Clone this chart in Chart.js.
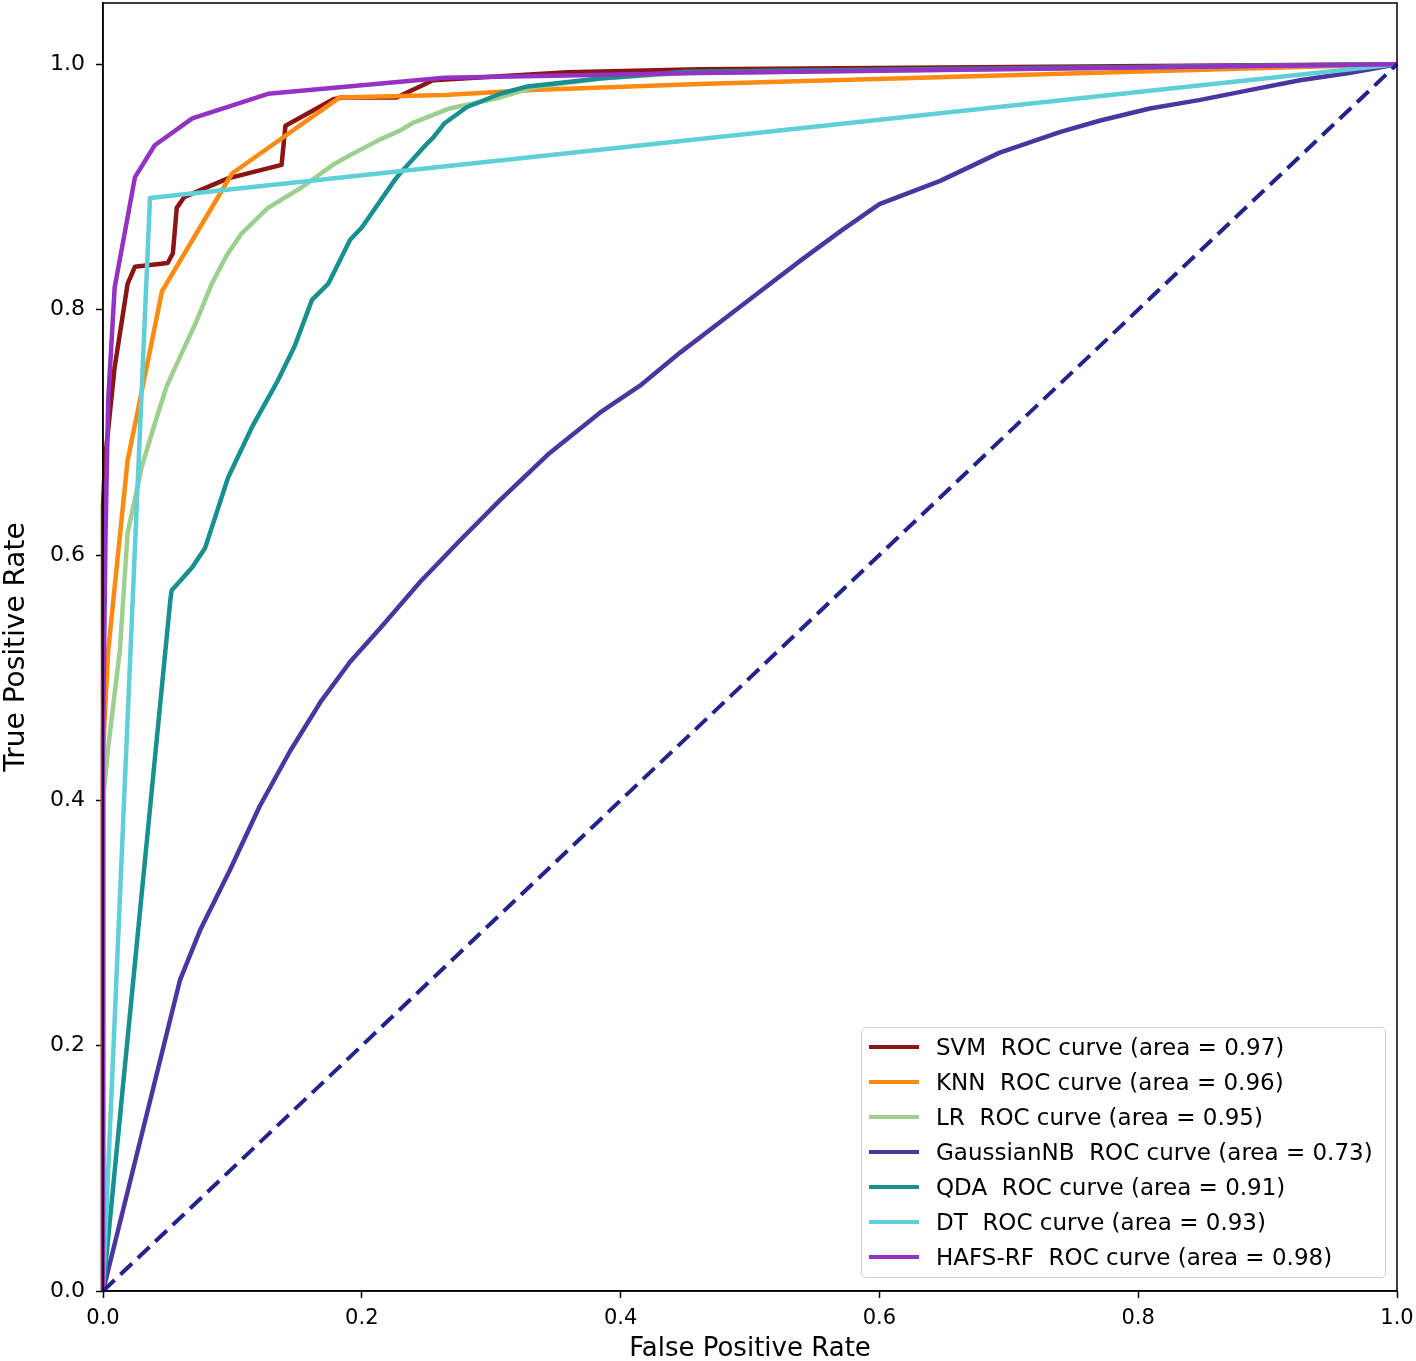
<!DOCTYPE html>
<html>
<head>
<meta charset="utf-8">
<script src="https://cdn.jsdelivr.net/npm/chart.js@4/dist/chart.umd.min.js"></script>
<style>
  html, body { margin: 0; padding: 0; background: #fff; }
  #wrap { position: relative; width: 1416px; height: 1361px; }
  canvas { display: block; }
  #legend {
    position: absolute; left: 861px; top: 1027px; width: 525px; height: 251px;
    border: 1px solid #cfcfcf; border-radius: 5px; background: rgba(255,255,255,0.85);
    font-family: "DejaVu Sans", sans-serif; font-size: 23px; color: #000;
    box-sizing: border-box; padding-top: 1.5px;
  }
  .row { position: relative; height: 35px; }
  .sw { position: absolute; left: 7px; top: 15px; width: 50px; height: 4.5px; }
  .tx { position: absolute; left: 74px; top: 0; line-height: 35px; white-space: pre; }
</style>
</head>
<body>
<div id="wrap">
  <canvas id="c" width="1416" height="1361"></canvas>
  <div id="legend"></div>
</div>
<script>
// ---- data ----
const modelNames = ['SVM', 'KNN', 'LR', 'GaussianNB', 'QDA', 'DT', 'HAFS-RF'];
const modelAuc   = [0.97, 0.96, 0.95, 0.73, 0.91, 0.93, 0.98];
const modelColors = ['#8b1414', '#ff8a12', '#9dcf8e', '#4b35a0', '#189090', '#5fcfd8', '#9432c6'];

const svmFpr = [0, 0, 0.0015, 0.009, 0.013, 0.019, 0.0247, 0.050, 0.054, 0.057, 0.063, 0.0966, 0.138, 0.141, 0.148, 0.178, 0.185, 0.227, 0.237, 0.245, 0.255, 0.359, 0.461, 1];
const svmTpr = [0, 0.64, 0.677, 0.753, 0.78, 0.821, 0.835, 0.838, 0.846, 0.883, 0.892, 0.907, 0.918, 0.950, 0.954, 0.9715, 0.973, 0.973, 0.978, 0.982, 0.987, 0.9935, 0.996, 1];

const knnFpr = [0, 0, 0.004, 0.019, 0.027, 0.0456, 0.0997, 0.183, 0.264, 0.332, 0.461, 1];
const knnTpr = [0, 0.44, 0.522, 0.677, 0.718, 0.815, 0.911, 0.973, 0.975, 0.979, 0.984, 1];

const lrFpr = [0, 0, 0.004, 0.013, 0.019, 0.030, 0.040, 0.049, 0.061, 0.072, 0.084, 0.096, 0.107, 0.1275, 0.154, 0.179, 0.191, 0.2125, 0.2295, 0.239, 0.264, 0.268, 0.307, 0.332, 0.384, 0.45, 1];
const lrTpr = [0, 0.40, 0.443, 0.522, 0.618, 0.672, 0.707, 0.737, 0.765, 0.790, 0.821, 0.845, 0.862, 0.883, 0.900, 0.919, 0.926, 0.938, 0.946, 0.952, 0.9625, 0.964, 0.973, 0.981, 0.9885, 0.993, 1];

const gnbFpr = [0, 0.0595, 0.075, 0.098, 0.121, 0.1445, 0.168, 0.191, 0.214, 0.245, 0.276, 0.307, 0.345, 0.384, 0.415, 0.446, 0.477, 0.508, 0.539, 0.570, 0.600, 0.647, 0.693, 0.740, 0.770, 0.809, 0.848, 0.886, 0.925, 0.963, 1];
const gnbTpr = [0, 0.2535, 0.294, 0.343, 0.395, 0.440, 0.480, 0.513, 0.540, 0.578, 0.612, 0.645, 0.683, 0.716, 0.738, 0.765, 0.790, 0.815, 0.840, 0.864, 0.886, 0.905, 0.928, 0.945, 0.954, 0.964, 0.971, 0.979, 0.987, 0.993, 1];

const qdaFpr = [0, 0.052, 0.053, 0.069, 0.079, 0.0966, 0.115, 0.135, 0.148, 0.1615, 0.174, 0.191, 0.200, 0.2257, 0.2295, 0.251, 0.255, 0.264, 0.281, 0.307, 0.328, 0.384, 0.45, 1];
const qdaTpr = [0, 0.563, 0.571, 0.590, 0.606, 0.663, 0.704, 0.742, 0.770, 0.808, 0.821, 0.857, 0.867, 0.906, 0.911, 0.936, 0.940, 0.952, 0.965, 0.976, 0.982, 0.9885, 0.994, 1];

const dtFpr = [0, 0.0363, 1];
const dtTpr = [0, 0.891, 1];

const rfFpr = [0, 0, 0.002, 0.004, 0.009, 0.0247, 0.040, 0.069, 0.1275, 0.264, 0.461, 1];
const rfTpr = [0, 0.45, 0.62, 0.726, 0.818, 0.908, 0.934, 0.956, 0.976, 0.989, 0.993, 1];

const chanceFpr = [0, 1];
const chanceTpr = [0, 1];

const xTickValues = [0, 0.2, 0.4, 0.6, 0.8, 1.0];
const yTickValues = [0, 0.2, 0.4, 0.6, 0.8, 1.0];

// ---- build ----
const fprs = [svmFpr, knnFpr, lrFpr, gnbFpr, qdaFpr, dtFpr, rfFpr];
const tprs = [svmTpr, knnTpr, lrTpr, gnbTpr, qdaTpr, dtTpr, rfTpr];
const zip = (xs, ys) => xs.map((x, i) => ({ x: x, y: ys[i] }));
const labels = modelNames.map((n, i) => n + '  ROC curve (area = ' + modelAuc[i].toFixed(2) + ')');

const datasets = modelNames.map((n, i) => ({
  label: labels[i],
  data: zip(fprs[i], tprs[i]),
  borderColor: modelColors[i],
  backgroundColor: modelColors[i],
  borderWidth: 4.5,
  pointRadius: 0,
  tension: 0,
  fill: false,
  borderJoinStyle: 'round',
  order: 8 - i
}));
datasets.push({
  label: 'chance',
  data: zip(chanceFpr, chanceTpr),
  borderColor: '#23238c',
  borderWidth: 4,
  borderDash: [16, 8],
  pointRadius: 0,
  fill: false,
  order: 0
});

const frame = {
  id: 'frame',
  afterDraw(chart) {
    const { ctx, chartArea: a } = chart;
    ctx.save();
    ctx.strokeStyle = '#000';
    ctx.lineWidth = 1.5;
    ctx.strokeRect(a.left, a.top, a.right - a.left, a.bottom - a.top);
    ctx.restore();
  }
};

const tickFont = { family: '"DejaVu Sans", sans-serif', size: 21 };

new Chart(document.getElementById('c'), {
  type: 'line',
  data: { datasets },
  options: {
    responsive: false,
    animation: false,
    clip: false,
    layout: { padding: { left: 0, top: 3, right: 19, bottom: 0 } },
    plugins: { legend: { display: false }, tooltip: { enabled: false } },
    scales: {
      x: {
        type: 'linear', min: 0, max: 1,
        afterBuildTicks: s => { s.ticks = xTickValues.map(v => ({ value: v })); },
        afterFit: s => { s.height = 70; s.paddingLeft = 0; s.paddingRight = 0; },
        ticks: { color: '#000', font: tickFont, padding: 8, maxRotation: 0, callback: v => Number(v).toFixed(1) },
        grid: { display: true, drawOnChartArea: false, drawTicks: true, tickLength: 7, tickWidth: 1.5, color: '#000' },
        border: { display: true, color: '#000', width: 1.5 },
        title: { display: true, text: 'False Positive Rate', color: '#000', font: { family: '"DejaVu Sans", sans-serif', size: 26 }, padding: { top: 0, bottom: -4 } }
      },
      y: {
        type: 'linear', min: 0, max: 1.05,
        afterBuildTicks: s => { s.ticks = yTickValues.map(v => ({ value: v })); },
        afterFit: s => { s.width = 103; s.paddingTop = 0; s.paddingBottom = 0; },
        ticks: { color: '#000', font: { family: '"DejaVu Sans", sans-serif', size: 22 }, padding: 11, callback: v => Number(v).toFixed(1) },
        grid: { display: true, drawOnChartArea: false, drawTicks: true, tickLength: 7, tickWidth: 1.5, color: '#000' },
        border: { display: true, color: '#000', width: 1.5 },
        title: { display: true, text: 'True Positive Rate', color: '#000', font: { family: '"DejaVu Sans", sans-serif', size: 28 }, padding: { top: 0, bottom: 0 } }
      }
    }
  },
  plugins: [frame]
});

// legend (HTML, built from the same arrays)
const lg = document.getElementById('legend');
labels.forEach((t, i) => {
  const r = document.createElement('div'); r.className = 'row';
  const s = document.createElement('div'); s.className = 'sw'; s.style.background = modelColors[i];
  const x = document.createElement('div'); x.className = 'tx'; x.textContent = t;
  r.appendChild(s); r.appendChild(x); lg.appendChild(r);
});
</script>
</body>
</html>
